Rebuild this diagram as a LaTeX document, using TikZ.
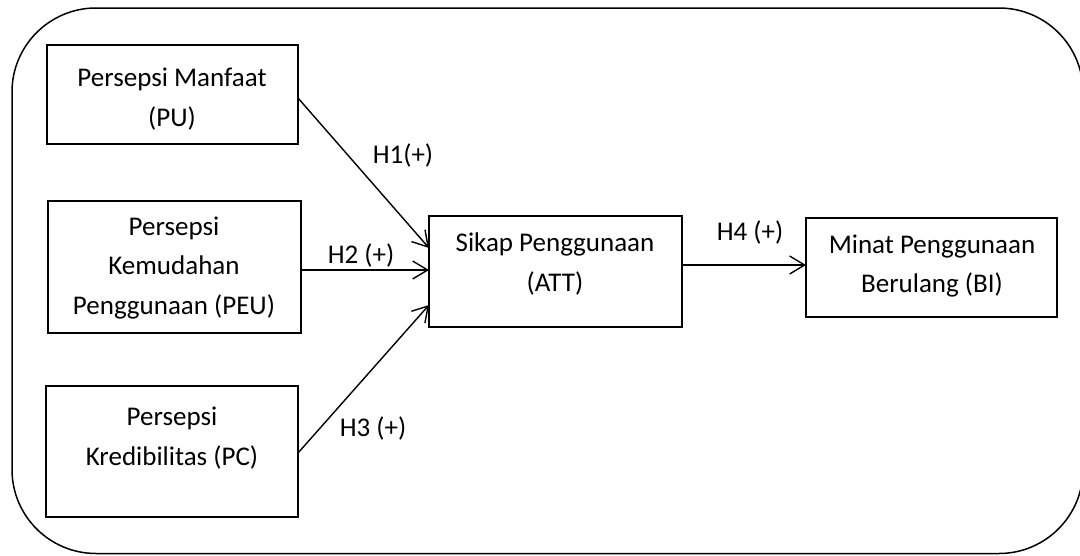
\documentclass[tikz,border=0pt]{standalone}
\usepackage{fontspec}
\setmainfont{Carlito}
\usetikzlibrary{arrows.meta}
\begin{document}
\begin{tikzpicture}[x=1pt,y=-1pt,
  box/.style={draw, line width=2.6pt, rectangle, inner sep=0pt, outer sep=0pt},
  txt/.style={align=center, font=\fontsize{27pt}{39.5pt}\selectfont, inner sep=0pt},
  conn/.style={line width=1.4pt, -{Straight Barb[length=15pt,width=18pt]}},
  lab/.style={font=\fontsize{27pt}{32pt}\selectfont, inner sep=0pt},
  frame/.style={draw, line width=1.5pt, rounded corners=84pt}]
\useasboundingbox (0,0) rectangle (1080,555);
\clip (0,0) rectangle (1080,555);
% outer frame
\draw[frame] (12,8) rectangle (1083,553.5);
% boxes
\node[box, minimum width=251pt, minimum height=99pt]  (pu)  at (172.5,94.5) {};
\node[box, minimum width=253pt, minimum height=132pt] (peu) at (174.5,267) {};
\node[box, minimum width=252pt, minimum height=131pt] (pc)  at (172,451.5) {};
\node[box, minimum width=253pt, minimum height=111pt] (att) at (555.5,271.5) {};
\node[box, minimum width=251pt, minimum height=99pt]  (bi)  at (931.5,267.5) {};
% texts
\node[txt] (put)  at (172,99)  {Persepsi Manfaat\\(PU)};
\node[txt] (peut) at (174,268) {Persepsi\\Kemudahan\\Penggunaan (PEU)};
\node[txt] (pct)  at (172,438) {Persepsi\\Kredibilitas (PC)};
\node[txt] (attt) at (555,264) {Sikap Penggunaan\\(ATT)};
\node[txt] (bit)  at (932,266) {Minat Penggunaan\\Berulang (BI)};
% connectors
\draw[conn] ([yshift=-3.5pt]pu.east) -- ([yshift=23.5pt]att.west);
\draw[conn] ([yshift=-3pt]peu.east) -- ([yshift=1.5pt]att.west);
\draw[conn] ([yshift=-1.5pt]pc.east) -- ([yshift=-33.5pt]att.west);
\draw[conn] ([yshift=6.5pt]att.east) -- ([yshift=2.5pt]bi.west);
% labels
\node[lab] (h1) at (403,155) {H1(+)};
\node[lab] (h2) at (361,255) {H2 (+)};
\node[lab] (h3) at (373,428) {H3 (+)};
\node[lab] (h4) at (750,232) {H4 (+)};
\end{tikzpicture}
\end{document}
